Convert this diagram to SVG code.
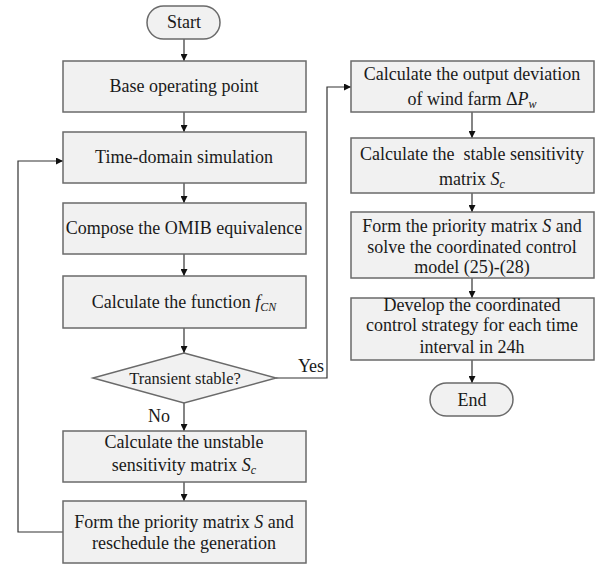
<svg xmlns="http://www.w3.org/2000/svg" width="597" height="565" viewBox="0 0 597 565">
<defs>
<marker id="arr" viewBox="0 0 10 10" refX="10" refY="5" markerWidth="7" markerHeight="7" markerUnits="userSpaceOnUse" orient="auto">
<path d="M0,0 L10,5 L0,10 z" fill="#111"/>
</marker>
<style>
.box{fill:#f1f1f1;stroke:#6a6a6a;stroke-width:1.5}
.t{font-family:"Liberation Serif","Times New Roman",serif;font-size:18px;fill:#1a1a1a;text-anchor:middle}
.s{font-size:16.5px}
.i{font-style:italic}
.sub{font-size:12px;font-style:italic}
.c{fill:none;stroke:#333;stroke-width:1.2}
</style>
</defs>
<rect width="597" height="565" fill="#ffffff"/>
<g id="connectors">
<path class="c" d="M184,39 V61" marker-end="url(#arr)"/>
<path class="c" d="M184,112 V132" marker-end="url(#arr)"/>
<path class="c" d="M184,183 V203" marker-end="url(#arr)"/>
<path class="c" d="M184,254 V276" marker-end="url(#arr)"/>
<path class="c" d="M184,328 V353" marker-end="url(#arr)"/>
<path class="c" d="M184,403 V431" marker-end="url(#arr)"/>
<path class="c" d="M184,482 V501" marker-end="url(#arr)"/>
<path class="c" d="M63,532 H18 V161 H63" marker-end="url(#arr)"/>
<path class="c" d="M276,378 H327 V87 H351" marker-end="url(#arr)"/>
<path class="c" d="M472,112 V138" marker-end="url(#arr)"/>
<path class="c" d="M472,193 V212" marker-end="url(#arr)"/>
<path class="c" d="M472,278 V298" marker-end="url(#arr)"/>
<path class="c" d="M472,360 V383" marker-end="url(#arr)"/>
<text class="t" x="311" y="372">Yes</text>
<text class="t" x="159" y="422">No</text>
</g>
<g id="start">
<rect class="box" x="147" y="6" width="73" height="33" rx="16.5"/>
<text class="t" x="184" y="28">Start</text>
</g>
<g id="base">
<rect class="box" x="63" y="61" width="243" height="51"/>
<text class="t" x="184" y="92">Base operating point</text>
</g>
<g id="timedomain">
<rect class="box" x="63" y="132" width="243" height="51"/>
<text class="t" x="184" y="163">Time-domain simulation</text>
</g>
<g id="omib">
<rect class="box" x="63" y="203" width="243" height="51"/>
<text class="t" x="184" y="234">Compose the OMIB equivalence</text>
</g>
<g id="function">
<rect class="box" x="63" y="276" width="243" height="52"/>
<text class="t" x="184" y="308">Calculate the function <tspan class="i">f</tspan><tspan class="sub" dy="3">CN</tspan></text>
</g>
<g id="decision">
<path class="box" d="M184,353 L276,378 L184,403 L93,378 Z"/>
<text class="t s" x="185" y="384">Transient stable?</text>
</g>
<g id="unstable">
<rect class="box" x="63" y="431" width="243" height="51"/>
<text class="t" x="184" y="448">Calculate the unstable</text>
<text class="t" x="184" y="471">sensitivity matrix <tspan class="i">S</tspan><tspan class="sub" dy="3">c</tspan></text>
</g>
<g id="reschedule">
<rect class="box" x="63" y="501" width="243" height="62"/>
<text class="t" x="184" y="528">Form the priority matrix <tspan class="i">S</tspan> and</text>
<text class="t" x="184" y="549">reschedule the generation</text>
</g>
<g id="deviation">
<rect class="box" x="351" y="61" width="243" height="51"/>
<text class="t" x="472" y="80">Calculate the output deviation</text>
<text class="t" x="472" y="105">of wind farm Δ<tspan class="i">P</tspan><tspan class="sub" dy="3">w</tspan></text>
</g>
<g id="stable">
<rect class="box" x="351" y="138" width="243" height="55"/>
<text class="t" x="472" y="160" xml:space="preserve">Calculate the  stable sensitivity</text>
<text class="t" x="472" y="185">matrix <tspan class="i">S</tspan><tspan class="sub" dy="3">c</tspan></text>
</g>
<g id="solve">
<rect class="box" x="351" y="212" width="243" height="66"/>
<text class="t" x="472" y="232">Form the priority matrix <tspan class="i">S</tspan> and</text>
<text class="t" x="472" y="253">solve the coordinated control</text>
<text class="t" x="472" y="273">model (25)-(28)</text>
</g>
<g id="develop">
<rect class="box" x="351" y="298" width="243" height="62"/>
<text class="t" x="472" y="311">Develop the coordinated</text>
<text class="t" x="472" y="331">control strategy for each time</text>
<text class="t" x="472" y="353">interval in 24h</text>
</g>
<g id="end">
<rect class="box" x="430" y="383" width="83" height="33" rx="16.5"/>
<text class="t" x="472" y="406">End</text>
</g>
</svg>
